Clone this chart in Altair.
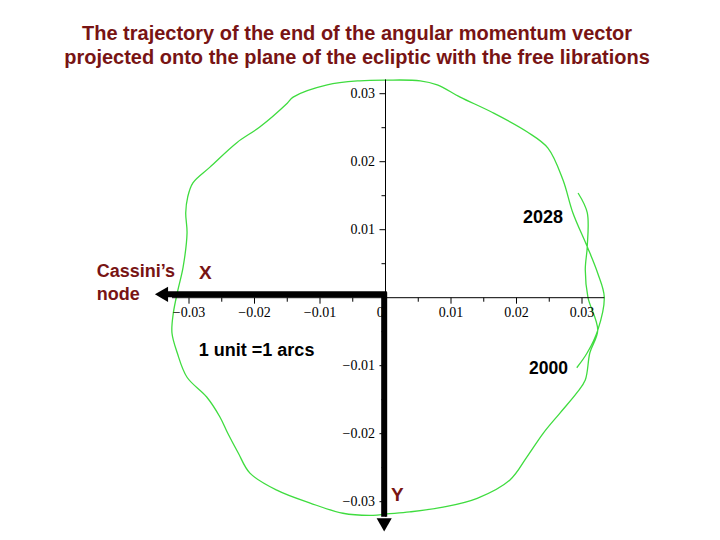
import altair as alt
import pandas as pd

# ---------------- data ----------------
# trajectory of the end of the angular momentum vector (arcsec), from 2000 to 2028
traj_x = [0.0292, 0.0308, 0.0324, 0.0334, 0.0324, 0.0308, 0.0286, 0.0271, 0.0248, 0.0216,
          0.0164, 0.0114, 0.0079, 0.0053, 0.0001, -0.0039, -0.0089, -0.0141, -0.0150, -0.0192,
          -0.0227, -0.0268, -0.0294, -0.0302, -0.0305, -0.0303, -0.0309, -0.0317, -0.0324, -0.0326,
          -0.0318, -0.0303, -0.0273, -0.0253, -0.0241, -0.0225, -0.0207, -0.0166, -0.0115, -0.0065,
          -0.0019, 0.0002, 0.0037, 0.0088, 0.0140, 0.0190, 0.0216, 0.0241, 0.0266, 0.0292,
          0.0305, 0.0312, 0.0324, 0.0309, 0.0305, 0.0308, 0.0308, 0.0294]
traj_y = [-0.0103, -0.0081, -0.0048, 0.0001, 0.0036, 0.0075, 0.0125, 0.0173, 0.0220, 0.0244,
          0.0272, 0.0295, 0.0313, 0.0319, 0.0320, 0.0319, 0.0313, 0.0295, 0.0286, 0.0251,
          0.0228, 0.0192, 0.0169, 0.0148, 0.0125, 0.0095, 0.0045, 0.0011, -0.0023, -0.0052,
          -0.0081, -0.0117, -0.0146, -0.0175, -0.0199, -0.0228, -0.0258, -0.0283, -0.0302, -0.0317,
          -0.0320, -0.0318, -0.0315, -0.0308, -0.0295, -0.0268, -0.0234, -0.0199, -0.0170, -0.0140,
          -0.0121, -0.0081, -0.0048, 0.0001, 0.0041, 0.0075, 0.0125, 0.0154]

x_axis_range = [-0.0326, 0.0334]
y_axis_range = [-0.0322, 0.0321]
major_ticks = [-0.03, -0.02, -0.01, 0.01, 0.02, 0.03]
minor_ticks = [-0.025, -0.015, -0.005, 0.005, 0.015, 0.025]
x_tick_labels = ["\u22120.03", "\u22120.02", "\u22120.01", "0", "0.01", "0.02", "0.03"]
x_tick_label_pos = [-0.03, -0.02, -0.01, -0.0008, 0.01, 0.02, 0.03]
y_tick_labels = ["\u22120.03", "\u22120.02", "\u22120.01", "0.01", "0.02", "0.03"]
y_tick_label_pos = [-0.03, -0.02, -0.01, 0.01, 0.02, 0.03]

# arrows (X toward Cassini's node, Y downward)
arrow_h_x = [0.0002, -0.0335]
arrow_h_y = 0.0005
arrow_v_x = -0.0002
arrow_v_y = [0.0008, -0.0322]
arrow_head_x = [-0.0342, -0.0002]
arrow_head_y = [0.0005, -0.0334]
arrow_head_shape = ["triangle-left", "triangle-down"]

# annotations
black_notes = ["2028", "2000", "1 unit =1 arcs"]
black_notes_x = [0.0210, 0.0219, -0.0285]
black_notes_y = [0.0117, -0.0105, -0.0078]
black_notes_size = [18, 17.5, 18]
red_notes = ["X", "Y"]
red_notes_x = [-0.0275, 0.0018]
red_notes_y = [0.0036, -0.0290]
node_text = "Cassini\u2019s\nnode"
node_x = -0.0441
node_y = 0.0038

title_lines = ["The trajectory of the end of the angular momentum vector",
               "projected onto the plane of the ecliptic with the free librations"]

# ---------------- styling ----------------
GREEN = "#3fdc3f"
DARKRED = "#781414"
SANS = "Liberation Sans"
SERIF = "Liberation Serif"
XMIN, XMAX = -0.057634, 0.049847
YMIN, YMAX = -0.034456, 0.032309
TX_MAJ, TX_MIN = 0.00088, 0.00059   # x-axis tick lengths (in y units)
TY_MAJ, TY_MIN = 0.00092, 0.00061   # y-axis tick lengths (in x units)

XS = alt.Scale(domain=[XMIN, XMAX], nice=False, zero=False)
YS = alt.Scale(domain=[YMIN, YMAX], nice=False, zero=False)


def X(f):
    return alt.X(f, type="quantitative", scale=XS, axis=None)


def Y(f):
    return alt.Y(f, type="quantitative", scale=YS, axis=None)


# curve
df_traj = pd.DataFrame({"x": traj_x, "y": traj_y, "i": list(range(len(traj_x)))})
curve = alt.Chart(df_traj).mark_line(color=GREEN, strokeWidth=1.3, interpolate="catmull-rom").encode(
    x=X("x"), y=Y("y"), order=alt.Order("i:Q"))

# axis lines
df_axes = pd.DataFrame({"x": [x_axis_range[0], 0.0], "x2": [x_axis_range[1], 0.0],
                        "y": [0.0, y_axis_range[0]], "y2": [0.0, y_axis_range[1]]})
axes = alt.Chart(df_axes).mark_rule(color="black", strokeWidth=1).encode(
    x=X("x"), x2=alt.X2("x2"), y=Y("y"), y2=alt.Y2("y2"))

# ticks
rows = []
for t in major_ticks:
    rows.append({"x": t, "x2": t, "y": 0.0, "y2": -TX_MAJ})
    rows.append({"x": 0.0, "x2": -TY_MAJ, "y": t, "y2": t})
for t in minor_ticks:
    rows.append({"x": t, "x2": t, "y": 0.0, "y2": -TX_MIN})
    rows.append({"x": 0.0, "x2": -TY_MIN, "y": t, "y2": t})
df_ticks = pd.DataFrame(rows)
ticks = alt.Chart(df_ticks).mark_rule(color="black", strokeWidth=1).encode(
    x=X("x"), x2=alt.X2("x2"), y=Y("y"), y2=alt.Y2("y2"))

# tick labels
df_xl = pd.DataFrame({"x": x_tick_label_pos, "y": [-0.00225] * len(x_tick_label_pos), "t": x_tick_labels})
xlab = alt.Chart(df_xl).mark_text(font=SERIF, fontSize=14, color="black", align="center",
                                  baseline="middle").encode(x=X("x"), y=Y("y"), text="t:N")
df_yl = pd.DataFrame({"x": [-0.0016] * len(y_tick_label_pos), "y": y_tick_label_pos, "t": y_tick_labels})
ylab = alt.Chart(df_yl).mark_text(font=SERIF, fontSize=14, color="black", align="right",
                                  baseline="middle").encode(x=X("x"), y=Y("y"), text="t:N")

# arrows
df_shaft = pd.DataFrame({"x": [arrow_h_x[0], arrow_v_x], "x2": [arrow_h_x[1], arrow_v_x],
                         "y": [arrow_h_y, arrow_v_y[0]], "y2": [arrow_h_y, arrow_v_y[1]]})
shafts = alt.Chart(df_shaft).mark_rule(color="black", strokeWidth=6).encode(
    x=X("x"), x2=alt.X2("x2"), y=Y("y"), y2=alt.Y2("y2"))
df_heads = pd.DataFrame({"x": arrow_head_x, "y": arrow_head_y, "s": arrow_head_shape})
heads = alt.Chart(df_heads).mark_point(filled=True, color="black", opacity=1, size=230).encode(
    x=X("x"), y=Y("y"), shape=alt.Shape("s:N", scale=None, legend=None))

# annotations
df_bn = pd.DataFrame({"x": black_notes_x, "y": black_notes_y, "t": black_notes, "fs": black_notes_size})
bnotes = alt.Chart(df_bn).mark_text(font=SANS, fontWeight="bold", color="black", align="left",
                                    baseline="middle").encode(
    x=X("x"), y=Y("y"), text="t:N", size=alt.Size("fs:Q", scale=None, legend=None))
df_rn = pd.DataFrame({"x": red_notes_x, "y": red_notes_y, "t": red_notes})
rnotes = alt.Chart(df_rn).mark_text(font=SANS, fontWeight="bold", fontSize=19, color=DARKRED,
                                    align="center", baseline="middle").encode(
    x=X("x"), y=Y("y"), text="t:N")
df_node = pd.DataFrame({"x": [node_x], "y": [node_y], "t": [node_text]})
node = alt.Chart(df_node).mark_text(font=SANS, fontWeight="bold", fontSize=18, color=DARKRED,
                                    align="left", baseline="middle", lineBreak="\n",
                                    lineHeight=23).encode(x=X("x"), y=Y("y"), text="t:N")

chart = alt.layer(curve, axes, ticks, xlab, ylab, shafts, heads, bnotes, rnotes, node).properties(
    width=704, height=454,
    autosize=alt.AutoSizeParams(type="none"),
    padding={"left": 0, "top": 70, "right": 0, "bottom": 0},
    title=alt.TitleParams(text=title_lines, font=SANS, fontWeight="bold", fontSize=20, color=DARKRED,
                          anchor="middle", baseline="bottom", offset=12, lineHeight=24, dx=-3, dy=23),
    background="white",
).configure_view(strokeWidth=0)

chart.save("out.html", embed_options={"renderer": "svg", "actions": False})
